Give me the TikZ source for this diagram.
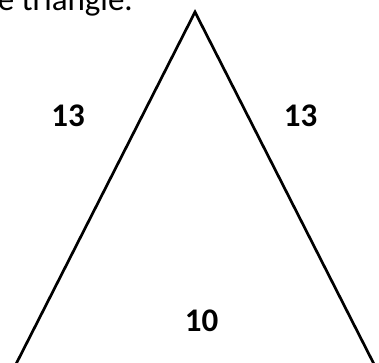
\documentclass[tikz,border=0pt]{standalone}
\usepackage{fontspec}
\setmainfont{Carlito}
\begin{document}
\begin{tikzpicture}[x=1pt,y=-1pt,
  side/.style={draw=black,line width=2.7pt,line join=miter},
  lab/.style={font=\fontsize{33}{40}\selectfont\bfseries,inner sep=0pt},
  caption/.style={font=\fontsize{33}{40}\selectfont,inner sep=0pt,anchor=base east}]
\useasboundingbox (0,0) rectangle (379,362);
\clip (0,0) rectangle (379,362);
\coordinate (apex) at (195,12);
\coordinate (bl) at (12,372);
\coordinate (br) at (378,372);
\draw[side] (bl) -- (apex) -- (br);
\node[lab] (l) at (68,115.5) {13};
\node[lab] (r) at (300.5,115.5) {13};
\node[lab] (b) at (201.5,320.5) {10};
\node[caption] (t) at (133,10) {e triangle.};
\end{tikzpicture}
\end{document}
